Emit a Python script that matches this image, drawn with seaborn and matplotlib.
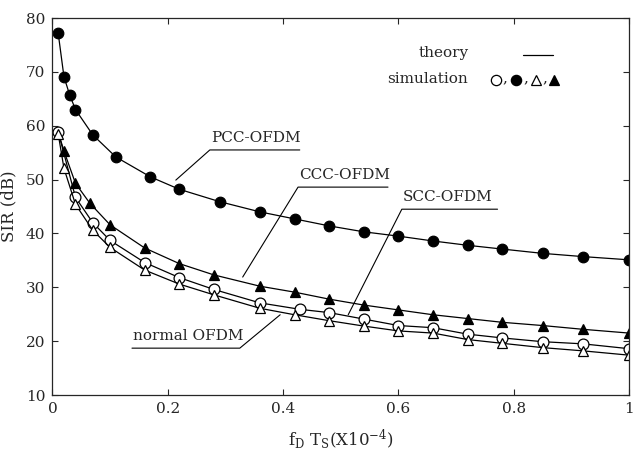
import seaborn as sns
import matplotlib
matplotlib.use("Agg")
import matplotlib.pyplot as plt

# Simulation / theory points
pcc_x = [0.01, 0.02, 0.03, 0.04, 0.07, 0.11, 0.17, 0.22, 0.29, 0.36, 0.42, 0.48,
         0.54, 0.60, 0.66, 0.72, 0.78, 0.85, 0.92, 1.0]
pcc_y = [77.2, 69.1, 65.7, 63.0, 58.3, 54.2, 50.5, 48.2, 45.9, 44.0, 42.7, 41.4,
         40.3, 39.5, 38.6, 37.8, 37.1, 36.3, 35.7, 35.1]

ccc_x = [0.01, 0.02, 0.04, 0.065, 0.10, 0.16, 0.22, 0.28, 0.36, 0.42, 0.48, 0.54,
         0.60, 0.66, 0.72, 0.78, 0.85, 0.92, 1.0]
ccc_y = [58.8, 55.3, 49.3, 45.6, 41.6, 37.3, 34.4, 32.3, 30.2, 29.1, 27.8, 26.7,
         25.8, 24.9, 24.2, 23.5, 22.9, 22.2, 21.5]

scc_x = [0.01, 0.04, 0.07, 0.10, 0.16, 0.22, 0.28, 0.36, 0.43, 0.48, 0.54, 0.60,
         0.66, 0.72, 0.78, 0.85, 0.92, 1.0]
scc_y = [58.9, 46.7, 42.0, 38.7, 34.6, 31.8, 29.6, 27.1, 25.9, 25.3, 24.1, 22.9,
         22.5, 21.3, 20.6, 19.9, 19.5, 18.6]

normal_x = [0.01, 0.02, 0.04, 0.07, 0.10, 0.16, 0.22, 0.28, 0.36, 0.42, 0.48, 0.54,
            0.60, 0.66, 0.72, 0.78, 0.85, 0.92, 1.0]
normal_y = [58.5, 52.1, 45.4, 40.6, 37.4, 33.2, 30.6, 28.6, 26.1, 24.9, 23.8, 22.8,
            21.9, 21.5, 20.3, 19.6, 18.8, 18.2, 17.4]

x_ticks = [0, 0.2, 0.4, 0.6, 0.8, 1.0]
x_tick_labels = ["0", "0.2", "0.4", "0.6", "0.8", "1"]
y_ticks = [10, 20, 30, 40, 50, 60, 70, 80]

# label, underline start (x, y), underline end x, leader target (x, y)
labels = ["PCC-OFDM", "CCC-OFDM", "SCC-OFDM", "normal OFDM"]
label_start = [(0.273, 55.5), (0.426, 48.6), (0.606, 44.5), (0.325, 18.7)]
label_end_x = [0.429, 0.582, 0.772, 0.138]
label_target = [(0.214, 49.9), (0.330, 31.9), (0.513, 24.9), (0.395, 24.9)]

sns.set_style("ticks")
plt.rcParams["font.family"] = ["DejaVu Serif"]
plt.rcParams["mathtext.default"] = "regular"

fig = plt.figure(figsize=(6.33, 4.5), dpi=100)
ax = fig.add_axes([0.0828, 0.1222, 0.9109, 0.8378])

line_kws = dict(color="black", lw=0.9, markeredgecolor="black", markeredgewidth=0.9)

sns.lineplot(x=pcc_x, y=pcc_y, ax=ax, marker="o", markersize=7.6,
             markerfacecolor="black", **line_kws)
sns.lineplot(x=ccc_x, y=ccc_y, ax=ax, marker="^", markersize=7.2,
             markerfacecolor="black", markevery=slice(1, None), **line_kws)
sns.lineplot(x=scc_x, y=scc_y, ax=ax, marker="o", markersize=7.8,
             markerfacecolor="white", **line_kws)
sns.lineplot(x=normal_x, y=normal_y, ax=ax, marker="^", markersize=7.0,
             markerfacecolor="white", **line_kws)

# Curve labels with underline and leader line
for text, (x0, y0), x1, (tx, ty) in zip(labels, label_start, label_end_x, label_target):
    ax.plot([tx, x0, x1], [ty, y0, y0], color="black", lw=0.8)
    left = min(x0, x1)
    ax.text(left + 0.002, y0 + 0.9, text, fontsize=11, ha="left", va="bottom")

# Hand-drawn legend
ax.text(0.7225, 0.907, "theory", transform=ax.transAxes, fontsize=11,
        ha="right", va="center")
ax.plot([0.8156, 0.8686], [0.902, 0.902], transform=ax.transAxes,
        color="black", lw=0.9, clip_on=False)
ax.text(0.7208, 0.838, "simulation", transform=ax.transAxes, fontsize=11,
        ha="right", va="center")
legend_marks = [("o", "white", 0.7694), ("o", "black", 0.8041),
                ("^", "white", 0.8388), ("^", "black", 0.8700)]
for mk, face, lx in legend_marks:
    ax.plot([lx], [0.836], marker=mk, markersize=7.4 if mk == "o" else 7.0,
            markerfacecolor=face, markeredgecolor="black", markeredgewidth=0.9,
            transform=ax.transAxes, clip_on=False)
for cx in [0.785, 0.821, 0.855]:
    ax.text(cx, 0.822, ",", transform=ax.transAxes, fontsize=11,
            ha="center", va="bottom")

ax.set_xlim(0, 1)
ax.set_ylim(10, 80)
ax.set_xticks(x_ticks)
ax.set_xticklabels(x_tick_labels)
ax.set_yticks(y_ticks)
ax.tick_params(direction="in", top=True, right=True, length=4, width=0.8,
               labelsize=11, pad=5)
for spine in ax.spines.values():
    spine.set_linewidth(0.9)

ax.set_xlabel(r"$f_D\ T_S(X10^{-4})$", fontsize=12)
ax.set_ylabel("SIR (dB)", fontsize=12)
ax.xaxis.set_label_coords(0.5, -0.085)
ax.yaxis.set_label_coords(-0.06, 0.5)

fig.savefig("out.png", dpi=100)
